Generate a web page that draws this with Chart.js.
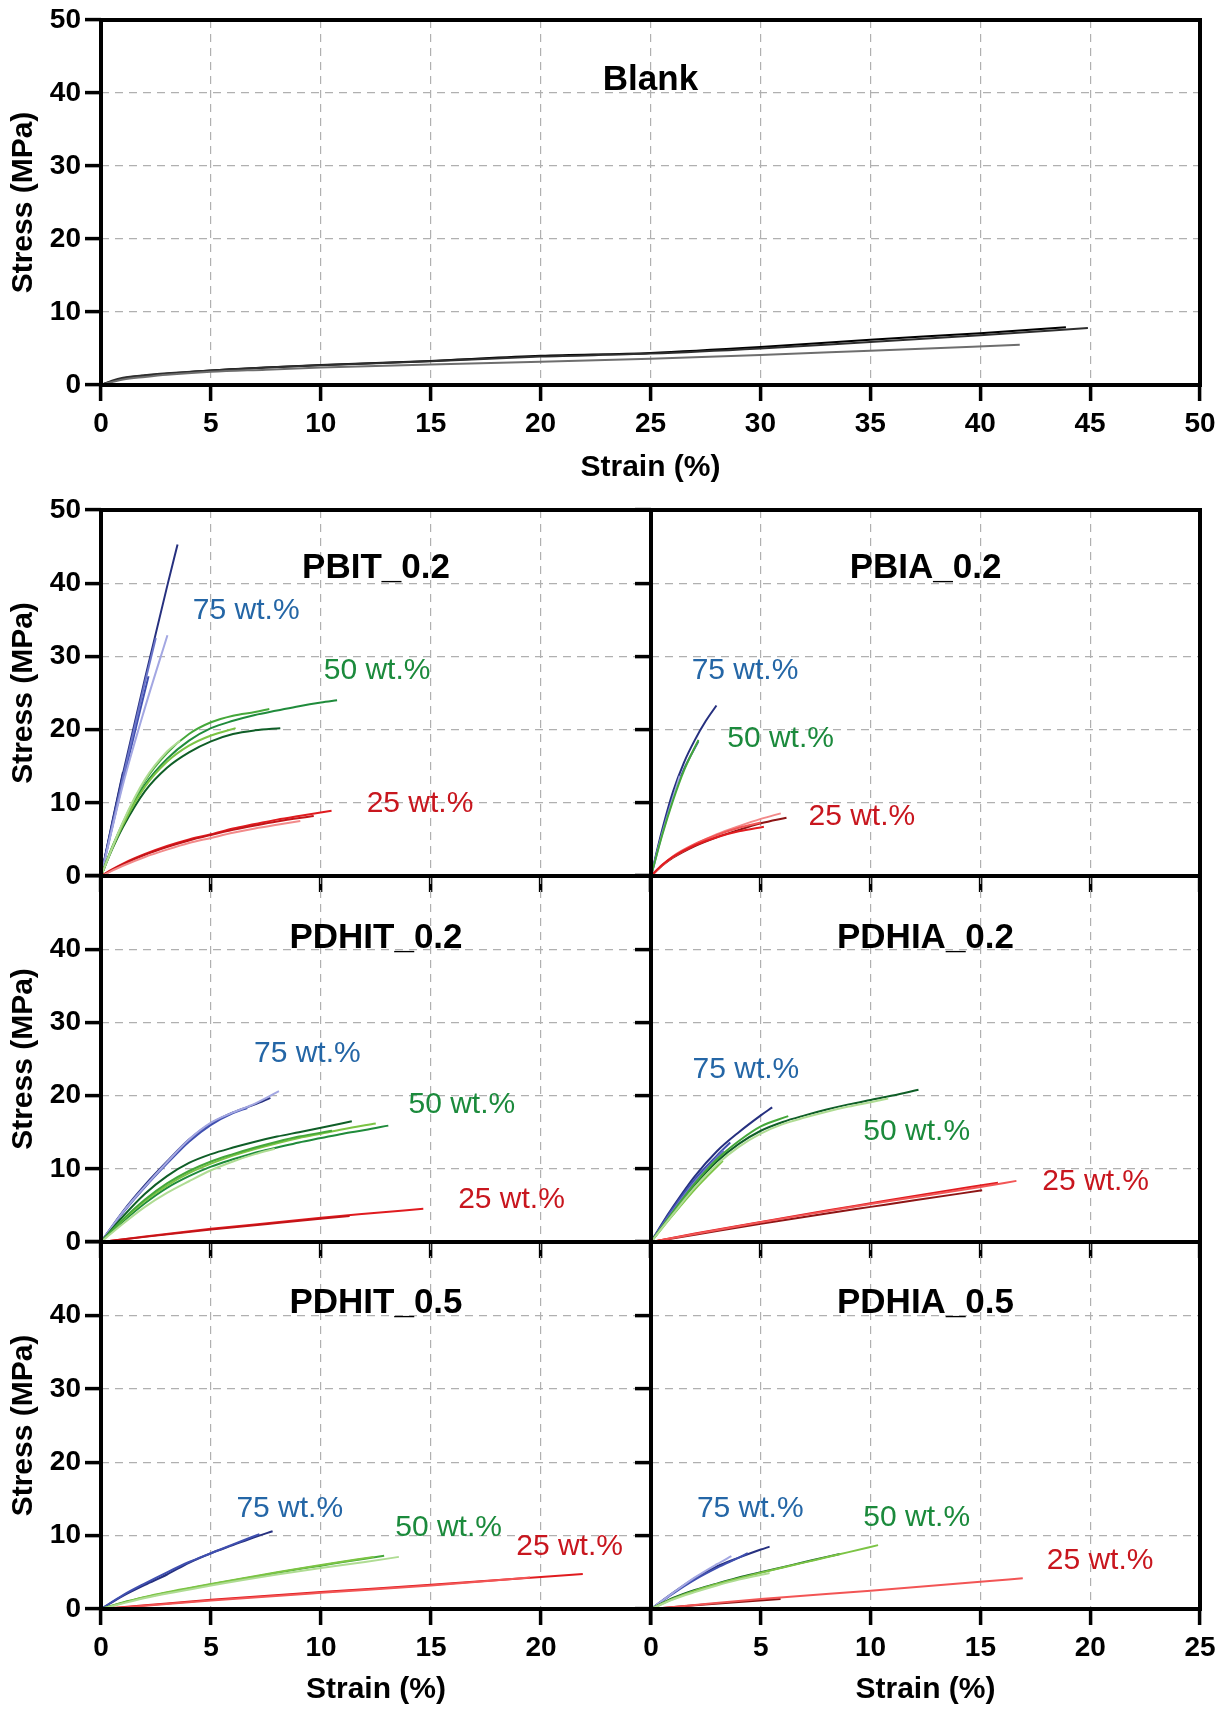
<!DOCTYPE html>
<html>
<head>
<meta charset="utf-8">
<script src="https://cdn.jsdelivr.net/npm/chart.js@4.4.1/dist/chart.umd.min.js"></script>
<style>
  html, body { margin:0; padding:0; background:#ffffff; }
  body { width:1226px; height:1711px; position:relative; overflow:hidden; }
  canvas { position:absolute; }
</style>
</head>
<body>
<canvas id="c0"></canvas>
<canvas id="c1"></canvas>
<canvas id="c3"></canvas>
<canvas id="c5"></canvas>
<canvas id="c2"></canvas>
<canvas id="c4"></canvas>
<canvas id="c6"></canvas>
<script>
// ---------------- tick values ----------------
const blankXTicks = [0,5,10,15,20,25,30,35,40,45,50];
const panelXTicks = [0,5,10,15,20,25];
const stressTicks = [0,10,20,30,40,50];

// ---------------- Blank (strain %, stress MPa) ----------------
const blankA = [[0,0],[0.5,0.5],[1,0.9],[2,1.3],[3,1.55],[5,2.0],[7.5,2.4],[10,2.75],[15,3.3],[20,4.0],[25,4.4],[30,5.2],[35,6.2],[40,7.1],[43.9,7.9]];
const blankB = [[0,0],[0.5,0.6],[1,1.0],[2,1.35],[3,1.6],[5,2.0],[7.5,2.4],[10,2.7],[15,3.25],[20,3.9],[25,4.3],[30,5.0],[35,5.9],[40,6.8],[44.9,7.8]];
const blankC = [[0,0],[0.5,0.4],[1,0.75],[2,1.1],[3,1.4],[5,1.8],[7.5,2.1],[10,2.4],[15,2.8],[20,3.2],[25,3.6],[30,4.1],[35,4.7],[41.8,5.5]];

// ---------------- PBIT_0.2 ----------------
const pbit75a = [[0,0],[1,14],[2,27],[3,39.5],[3.48,45.3]];
const pbit75b = [[0,0],[1,13.5],[2,26.5],[2.49,32.5]];
const pbit75c = [[0,0],[1,12.5],[2,23],[3.02,32.9]];
const pbit75d = [[0,0],[1,13],[2.16,27.3]];
const pbit75e = [[0,0],[0.5,7.2],[1.0,14.2]];
const pbit50a = [[0,0],[0.5,3.8],[1,7],[1.5,10],[2,12.5],[3,16],[4,18.5],[5,20.2],[6,21.2],[7,22],[8,22.6],[9,23.2],[10,23.7],[10.73,24]];
const pbit50b = [[0,0],[0.5,3.9],[1,7.3],[2,13],[3,16.8],[4,19.4],[5,21],[6,21.9],[7,22.4],[7.65,22.8]];
const pbit50c = [[0,0],[0.5,3.6],[1,6.7],[2,11.6],[3,14.8],[4,16.9],[5,18.4],[6,19.4],[7,19.9],[8.15,20.2]];
const pbit50d = [[0,0],[0.5,3.7],[1,7],[2,12.2],[3,15.6],[4,17.8],[5,19.2],[6.12,20.2]];
const pbit50e = [[0,0],[1,7.4],[2,13.2],[3,17],[3.6,18.5]];
const pbit25a = [[0,0],[0.5,0.9],[1,1.7],[2,3.0],[3,4.1],[4,5.0],[5,5.7],[6,6.5],[7,7.1],[8,7.7],[9,8.2],[10.48,8.9]];
const pbit25b = [[0,0],[1,1.6],[2,2.9],[3,3.95],[4,4.85],[5,5.6],[6,6.3],[7,6.9],[8,7.45],[9.67,8.2]];
const pbit25c = [[0,0],[1,1.4],[2,2.6],[3,3.6],[4,4.5],[5,5.2],[6,5.9],[7,6.5],[8,7.0],[9.06,7.5]];

// ---------------- PBIA_0.2 ----------------
const pbia75a = [[0,0],[0.5,6.2],[1,11.5],[1.5,15.5],[2,18.6],[2.5,21.2],[2.98,23.3]];
const pbia75b = [[0,0],[0.5,5.8],[1,10.8],[1.5,14.6],[2.16,18.4]];
const pbia75c = [[0,0],[0.5,5.6],[1.31,13.7]];
const pbia50a = [[0,0],[0.5,5.5],[1,10.3],[1.5,14.4],[2.16,18.6]];
const pbia25a = [[0,0],[0.5,1.5],[1,2.6],[2,4.3],[3,5.7],[4,6.8],[5,7.8],[5.91,8.56]];
const pbia25b = [[0,0],[0.5,1.4],[1,2.5],[2,4.1],[3,5.3],[4,6.3],[5,7.2],[6.17,7.97]];
const pbia25c = [[0,0],[0.5,1.5],[1,2.6],[2,4.2],[3,5.3],[4,6.1],[5.14,6.74]];
const pbia25d = [[0,0],[1,2.7],[2,4.4],[3,5.6],[4,6.6],[5,7.3]];

// ---------------- PDHIT_0.2 ----------------
const pdhit75a = [[0,0],[1,4.1],[2,7.6],[3,10.9],[4,14.0],[5,16.3],[6,17.7],[7,18.9],[8.09,20.6]];
const pdhit75b = [[0,0],[1,4.2],[2,7.8],[3,11],[4,14],[5,16.2],[6,17.7],[7,18.8],[7.7,19.7]];
const pdhit75c = [[0,0],[1,4.0],[2,7.5],[3,10.7],[4,13.7],[5,16],[6,17.6],[6.65,18.3]];
const pdhit50a = [[0,0],[1,3.5],[2,6.6],[3,9.0],[4,10.8],[5,12.0],[6,12.9],[7,13.7],[8,14.4],[9,15.0],[10,15.6],[11.4,16.5]];
const pdhit50b = [[0,0],[1,2.8],[2,5.3],[3,7.4],[4,9],[5,10.3],[6,11.3],[7,12.2],[8,12.9],[9,13.6],[10,14.2],[11,14.8],[12,15.3],[13.06,15.9]];
const pdhit50c = [[0,0],[1,3.0],[2,5.6],[3,7.7],[4,9.4],[5,10.7],[6,11.8],[7,12.7],[8,13.5],[9,14.2],[10,14.8],[11,15.4],[12.49,16.2]];
const pdhit50d = [[0,0],[1,2.5],[2,4.8],[3,6.7],[4,8.3],[5,9.8],[6,11],[7,12],[7.9,12.75]];
const pdhit50e = [[0,0],[1,3.1],[2,5.8],[3,8.0],[4,9.7],[5,11],[6,12],[7,12.9],[8,13.7],[9,14.4],[10.5,15.2]];
const pdhit25a = [[0,0],[2,0.75],[5,1.8],[8,2.7],[10,3.3],[12,3.85],[14.65,4.55]];
const pdhit25b = [[0,0],[2,0.7],[5,1.7],[8,2.6],[11.3,3.55]];

// ---------------- PDHIA_0.2 ----------------
const pdhia75a = [[0,0],[0.5,2.5],[1,4.8],[2,9],[3,12.4],[4,15],[5,17.3],[5.52,18.4]];
const pdhia75b = [[0,0],[1,4.6],[2,8.6],[3,11.8],[3.61,13.6]];
const pdhia75c = [[0,0],[1,4.3],[2,8.2],[3.3,12.5]];
const pdhia50a = [[0,0],[1,4.0],[2,7.8],[3,11],[4,13.4],[5,15.2],[6,16.4],[7,17.3],[8,18.1],[9,18.8],[10,19.4],[11,20],[12.18,20.8]];
const pdhia50b = [[0,0],[1,4.1],[2,8],[3,11.3],[4,13.8],[5,15.8],[6.25,17.2]];
const pdhia50c = [[0,0],[1,3.7],[2,7.2],[3.27,11.1]];
const pdhia50d = [[0,0],[1,3.8],[2,7.5],[3,10.6],[4,13],[5,14.8],[6,16.1],[7,17],[8,17.8],[9,18.5],[10,19.1],[10.8,19.6]];
const pdhia25a = [[0,0],[2,1.1],[5,2.7],[8,4.2],[10,5.2],[12,6.1],[15,7.5],[16.64,8.35]];
const pdhia25b = [[0,0],[2,1.0],[5,2.5],[8,3.9],[10,4.8],[12,5.7],[15.08,7.06]];
const pdhia25c = [[0,0],[2,1.15],[5,2.75],[8,4.3],[10,5.3],[12,6.3],[15.8,8.1]];

// ---------------- PDHIT_0.5 ----------------
const pdhit5_75a = [[0,0],[1,1.8],[2,3.3],[3,4.7],[4,6.3],[5,7.6],[6,8.7],[7,9.8],[7.8,10.6]];
const pdhit5_75b = [[0,0],[1,1.9],[2,3.5],[3,5.0],[4,6.4],[5,7.6],[6,8.8],[7.2,10.2]];
const pdhit5_50a = [[0,0],[1,0.9],[2,1.6],[3,2.2],[4,2.8],[5,3.35],[6,3.9],[7,4.4],[8,4.95],[9,5.45],[10,5.9],[11,6.4],[12,6.85],[12.87,7.27]];
const pdhit5_50b = [[0,0],[2,1.5],[5,3.2],[8,4.7],[10,5.6],[12,6.4],[13.54,7.1]];
const pdhit5_50c = [[0,0],[2,1.65],[5,3.4],[8,5.0],[10,6.0],[12.4,7.1]];
const pdhit5_25a = [[0,0],[2,0.5],[5,1.25],[10,2.3],[15,3.3],[20,4.35],[21.9,4.77]];
const pdhit5_25b = [[0,0],[2,0.45],[5,1.15],[10,2.2],[15,3.2],[19.5,4.3]];

// ---------------- PDHIA_0.5 ----------------
const pdhia5_75a = [[0,0],[1,2.2],[2,4.2],[3,5.8],[4,7.0],[5,8.1],[5.4,8.5]];
const pdhia5_75b = [[0,0],[1,2.1],[2,4.0],[3,5.6],[4,7.0],[4.41,7.6]];
const pdhia5_75c = [[0,0],[1,2.2],[2,4.3],[3,6.1],[3.66,7.2]];
const pdhia5_50a = [[0,0],[1,1.5],[2,2.6],[3,3.45],[4,4.3],[5,5.0],[6,5.7],[7,6.4],[8,7.1],[8.6,7.5]];
const pdhia5_50b = [[0,0],[1,1.4],[2,2.5],[3,3.4],[4,4.2],[5,4.95],[6,5.65],[7,6.35],[8,7.05],[9,7.75],[10.34,8.7]];
const pdhia5_50c = [[0,0],[1,1.3],[2,2.3],[3,3.2],[4,4.0],[5.4,4.9]];
const pdhia5_25a = [[0,0],[2,0.55],[5,1.35],[10,2.5],[15,3.7],[16.93,4.2]];
const pdhia5_25b = [[0,0],[2,0.5],[4,0.95],[5.9,1.35]];

// ---------------- panel names / labels ----------------
const panelTitles = ['Blank','PBIT_0.2','PBIA_0.2','PDHIT_0.2','PDHIA_0.2','PDHIT_0.5','PDHIA_0.5'];
const loadLabels = ['75 wt.%','50 wt.%','25 wt.%'];

// ---------------- styles ----------------
const FAM = "'Liberation Sans', Arial, Helvetica, sans-serif";
const C = {
  k1:'#000000', k2:'#2e2e2e', k3:'#6e6e6e',
  b1:'#26307f', b2:'#3f4fb0', b3:'#6a74c8', b4:'#a3a7e2',
  g1:'#0f5e27', g2:'#1f8b3b', g3:'#45a83a', g4:'#7cc444', g5:'#afdc93',
  r1:'#e01b1f', r2:'#c41418', r3:'#f28a8a', r4:'#8e1515', r5:'#f25555'
};
const LBL = { blue:'#2466a6', green:'#1b8a3c', red:'#c8161e' };

function s(pts, color){ return {pts, color}; }
function txt(text, x, y, kind){
  if (kind === 'title') return {text, x, y, color:'#000', font:'bold 35px ' + FAM};
  return {text, x, y, color:LBL[kind], font:'30px ' + FAM};
}

const frameText = {
  id:'frameText',
  afterDatasetsDraw(chart, args, opts){
    const {ctx, scales} = chart;
    ctx.save();
    (opts.texts || []).forEach(t => {
      ctx.font = t.font; ctx.fillStyle = t.color;
      ctx.textAlign = 'center'; ctx.textBaseline = 'middle';
      ctx.fillText(t.text, scales.x.getPixelForValue(t.x), scales.y.getPixelForValue(t.y));
    });
    ctx.restore();
  },
  afterDraw(chart){
    const {ctx, chartArea:a} = chart;
    ctx.save();
    ctx.strokeStyle = '#000'; ctx.lineWidth = 4; ctx.setLineDash([]);
    ctx.strokeRect(a.left, a.top, a.right - a.left, a.bottom - a.top);
    ctx.restore();
  }
};
Chart.register(frameText);

function panel(cfg){
  const YW = 101, PT = 30, PR = 30;
  const cv = document.getElementById(cfg.id);
  const w = YW + (cfg.R - cfg.L) + PR;
  const h = PT + (cfg.B - cfg.T) + cfg.XH;
  cv.width = w; cv.height = h;
  cv.style.width = w + 'px'; cv.style.height = h + 'px';
  cv.style.left = (cfg.L - YW) + 'px'; cv.style.top = (cfg.T - PT) + 'px';
  const xt = cfg.xTicks, yt = stressTicks;
  const gridCommon = { color:'#b0b0b0', lineWidth:1.2, drawTicks:true, tickLength:16, tickWidth:3.5, tickColor:'#000', tickBorderDash:[] };
  new Chart(cv, {
    type:'line',
    data:{ datasets: cfg.series.map(q => ({
      data: q.pts.map(p => ({x:p[0], y:p[1]})),
      borderColor:q.color, borderWidth:2, pointRadius:0, fill:false,
      cubicInterpolationMode:'monotone'
    })) },
    options:{
      responsive:false, animation:false, devicePixelRatio:1,
      layout:{ padding:{ left:0, top:PT, right:PR, bottom:0 } },
      plugins:{ legend:{display:false}, tooltip:{enabled:false}, frameText:{ texts:cfg.texts } },
      scales:{
        x:{
          type:'linear', position:'bottom', min:xt[0], max:xt[xt.length-1],
          afterFit: sc => { sc.height = cfg.XH; },
          afterBuildTicks: sc => { sc.ticks = xt.map(v => ({value:v})); },
          ticks:{ autoSkip:false, maxRotation:0, minRotation:0, padding:6, color:'#000',
            font:{family:FAM, weight:'bold', size:28},
            callback: v => (!cfg.xLabels || (cfg.hideXMax && v === xt[xt.length-1])) ? '' : String(v) },
          grid: gridCommon,
          border:{ display:false, dash:[8,6] },
          title:{ display:!!cfg.xTitle, text:'Strain (%)', color:'#000',
            font:{family:FAM, weight:'bold', size:30}, padding:{top:0, bottom:cfg.xTitlePad || 0} }
        },
        y:{
          type:'linear', position:'left', min:0, max:50,
          afterFit: sc => { sc.width = YW; },
          afterBuildTicks: sc => { sc.ticks = yt.map(v => ({value:v})); },
          ticks:{ autoSkip:false, padding:4, color:'#000',
            font:{family:FAM, weight:'bold', size:28},
            callback: v => (!cfg.yLabels || (cfg.hideY50 && v === 50)) ? '' : String(v) },
          grid: gridCommon,
          border:{ display:false, dash:[8,6] },
          title:{ display:!!cfg.yLabels, text:'Stress (MPa)', color:'#000',
            font:{family:FAM, weight:'bold', size:30}, padding:{top:6, bottom:0} }
        }
      }
    }
  });
}

const LX = {L:101, R:651}, RX = {L:651, R:1200};
const ROW1 = {T:510, B:876, XH:30}, ROW2 = {T:876, B:1242, XH:30}, ROW3 = {T:1242, B:1609, XH:102};

panel({ id:'c0', L:101, R:1200, T:20, B:385, XH:115, xTicks:blankXTicks, xLabels:true, xTitle:true, xTitlePad:14, yLabels:true,
  series:[ s(blankC,C.k3), s(blankB,C.k2), s(blankA,C.k1) ],
  texts:[ txt(panelTitles[0], 25, 41.8, 'title') ] });

panel({ id:'c1', ...LX, ...ROW1, xTicks:panelXTicks, xLabels:false, yLabels:true,
  series:[ s(pbit25c,C.r3), s(pbit25b,C.r2), s(pbit25a,C.r1),
           s(pbit50e,C.g5), s(pbit50d,C.g4), s(pbit50b,C.g3), s(pbit50c,C.g1), s(pbit50a,C.g2),
           s(pbit75c,C.b4), s(pbit75b,C.b3), s(pbit75d,C.b2), s(pbit75e,C.b1), s(pbit75a,C.b1) ],
  texts:[ txt(panelTitles[1], 12.5, 42, 'title'), txt(loadLabels[0], 6.6, 36.2, 'blue'),
          txt(loadLabels[1], 12.55, 28.0, 'green'), txt(loadLabels[2], 14.5, 9.9, 'red') ] });

panel({ id:'c2', ...RX, ...ROW1, xTicks:panelXTicks, xLabels:false, yLabels:false,
  series:[ s(pbia25c,C.r1), s(pbia25d,C.r5), s(pbia25a,C.r3), s(pbia25b,C.r4),
           s(pbia50a,C.g3), s(pbia75c,C.b4), s(pbia75b,C.b2), s(pbia75a,C.b1) ],
  texts:[ txt(panelTitles[2], 12.5, 42, 'title'), txt(loadLabels[0], 4.28, 28.0, 'blue'),
          txt(loadLabels[1], 5.9, 18.8, 'green'), txt(loadLabels[2], 9.6, 8.1, 'red') ] });

panel({ id:'c3', ...LX, ...ROW2, xTicks:panelXTicks, xLabels:false, yLabels:true, hideY50:true,
  series:[ s(pdhit25b,C.r2), s(pdhit25a,C.r1),
           s(pdhit50d,C.g5), s(pdhit50e,C.g3), s(pdhit50c,C.g4), s(pdhit50b,C.g2), s(pdhit50a,C.g1),
           s(pdhit75a,C.b4), s(pdhit75c,C.b2), s(pdhit75b,C.b1) ],
  texts:[ txt(panelTitles[3], 12.5, 41.5, 'title'), txt(loadLabels[0], 9.38, 25.7, 'blue'),
          txt(loadLabels[1], 16.4, 18.7, 'green'), txt(loadLabels[2], 18.66, 5.77, 'red') ] });

panel({ id:'c4', ...RX, ...ROW2, xTicks:panelXTicks, xLabels:false, yLabels:false,
  series:[ s(pdhia25a,C.r5), s(pdhia25c,C.r1), s(pdhia25b,C.r4),
           s(pdhia50d,C.g5), s(pdhia50c,C.g4), s(pdhia50b,C.g3), s(pdhia50a,C.g1),
           s(pdhia75c,C.b3), s(pdhia75b,C.b2), s(pdhia75a,C.b1) ],
  texts:[ txt(panelTitles[4], 12.5, 41.5, 'title'), txt(loadLabels[0], 4.32, 23.5, 'blue'),
          txt(loadLabels[1], 12.1, 15.0, 'green'), txt(loadLabels[2], 20.25, 8.3, 'red') ] });

panel({ id:'c5', ...LX, ...ROW3, xTicks:panelXTicks, xLabels:true, hideXMax:true, xTitle:true, xTitlePad:3, yLabels:true, hideY50:true,
  series:[ s(pdhit5_25b,C.r5), s(pdhit5_25a,C.r1),
           s(pdhit5_50b,C.g5), s(pdhit5_50c,C.g4), s(pdhit5_50a,C.g3),
           s(pdhit5_75b,C.b2), s(pdhit5_75a,C.b1) ],
  texts:[ txt(panelTitles[5], 12.5, 41.6, 'title'), txt(loadLabels[0], 8.58, 13.7, 'blue'),
          txt(loadLabels[1], 15.8, 11.1, 'green'), txt(loadLabels[2], 21.3, 8.5, 'red') ] });

panel({ id:'c6', ...RX, ...ROW3, xTicks:panelXTicks, xLabels:true, xTitle:true, xTitlePad:3, yLabels:false,
  series:[ s(pdhia5_25a,C.r5), s(pdhia5_25b,C.r4),
           s(pdhia5_50c,C.g5), s(pdhia5_50b,C.g4), s(pdhia5_50a,C.g1),
           s(pdhia5_75c,C.b4), s(pdhia5_75b,C.b2), s(pdhia5_75a,C.b1) ],
  texts:[ txt(panelTitles[6], 12.5, 41.6, 'title'), txt(loadLabels[0], 4.52, 13.7, 'blue'),
          txt(loadLabels[1], 12.1, 12.4, 'green'), txt(loadLabels[2], 20.45, 6.6, 'red') ] });
</script>
</body>
</html>
